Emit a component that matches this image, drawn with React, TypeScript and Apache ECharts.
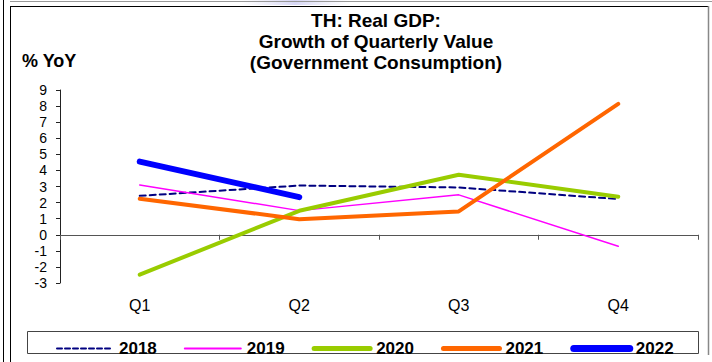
import React, { useEffect, useRef } from "react";
import * as echarts from "echarts";

const categories = ["Q1", "Q2", "Q3", "Q4"];
const s2018 = [2.42, 3.06, 2.94, 2.22];
const s2019 = [3.1, 1.5, 2.48, -0.72];
const s2020 = [-2.48, 1.49, 3.73, 2.36];
const s2021 = [2.24, 0.97, 1.45, 8.14];
const s2022: (number | null)[] = [4.55, 2.34, null, null];
const seriesNames = ["2018", "2019", "2020", "2021", "2022"];
const titleLines = ["TH: Real GDP:", "Growth of Quarterly Value", "(Government Consumption)"];
const yUnit = "% YoY";

const FONT = "'Liberation Sans', Arial, sans-serif";

export default function App() {
  const ref = useRef<HTMLDivElement>(null);
  useEffect(() => {
    if (!ref.current) return;
    const chart = echarts.init(ref.current, undefined, { renderer: "svg" });
    const styles = [
      { color: "#000080", width: 2, type: [6, 4], legendWidth: 2, legendType: [5, 3] },
      { color: "#ff00ff", width: 1.5, type: "solid", legendWidth: 2, legendType: "solid" },
      { color: "#99cc00", width: 4, type: "solid", legendWidth: 5, legendType: "solid" },
      { color: "#ff6600", width: 4, type: "solid", legendWidth: 5, legendType: "solid" },
      { color: "#0000ff", width: 6, type: "solid", legendWidth: 7, legendType: "solid" },
    ];
    const values = [s2018, s2019, s2020, s2021, s2022];
    chart.setOption({
      animation: false,
      backgroundColor: "#ffffff",
      textStyle: { fontFamily: FONT },
      grid: { left: 60, right: 14, top: 90, bottom: 79, containLabel: false },
      xAxis: [
        {
          type: "category",
          data: categories,
          boundaryGap: true,
          axisLine: { onZero: true, lineStyle: { color: "#555", width: 1 } },
          axisTick: { show: true, length: 5, inside: false, lineStyle: { color: "#555" } },
          axisLabel: { show: false },
          splitLine: { show: false },
        },
        {
          type: "category",
          data: categories,
          boundaryGap: true,
          position: "bottom",
          axisLine: { show: false, onZero: false },
          axisTick: { show: false },
          axisLabel: { show: true, margin: 14, fontSize: 16, color: "#000", fontFamily: FONT },
          splitLine: { show: false },
        },
      ],
      yAxis: {
        type: "value",
        min: -3,
        max: 9,
        interval: 1,
        axisLine: { show: true, lineStyle: { color: "#222", width: 1 } },
        axisTick: { show: true, length: 4, lineStyle: { color: "#222" } },
        axisLabel: { margin: 13, fontSize: 14, color: "#000", fontFamily: FONT },
        splitLine: { show: false },
      },
      legend: {
        left: 51,
        top: 335,
        itemWidth: 56,
        itemHeight: 14,
        itemGap: 27,
        itemStyle: { opacity: 0 },
        textStyle: { fontSize: 17, fontWeight: "bold", color: "#000", fontFamily: FONT, padding: [0, 0, 0, 1] },
        data: seriesNames.map((n, i) => ({
          name: n,
          lineStyle: { color: styles[i].color, width: styles[i].legendWidth, type: styles[i].legendType, cap: "round" },
        })),
      },
      series: seriesNames.map((n, i) => ({
        name: n,
        type: "line",
        data: values[i],
        symbol: "none",
        xAxisIndex: 0,
        lineStyle: { color: styles[i].color, width: styles[i].width, type: styles[i].type, cap: "round", join: "round" },
        itemStyle: { color: styles[i].color },
      })),
      graphic: [
        { type: "rect", shape: { x: 240, y: 0, width: 110, height: 5 }, style: { fill: new echarts.graphic.LinearGradient(0, 0, 1, 0, [{ offset: 0, color: "rgba(225,225,245,0)" }, { offset: 0.5, color: "rgba(215,215,245,1)" }, { offset: 1, color: "rgba(225,225,245,0)" }]) }, silent: true },
        { type: "line", shape: { x1: 10, y1: 1.5, x2: 712, y2: 1.5 }, style: { stroke: "#999", lineWidth: 1 } },
        { type: "line", shape: { x1: 3.5, y1: 0, x2: 3.5, y2: 362 }, style: { stroke: "#000", lineWidth: 1 } },
        { type: "line", shape: { x1: 10.5, y1: 6, x2: 10.5, y2: 362 }, style: { stroke: "#000", lineWidth: 1 } },
        { type: "line", shape: { x1: 10, y1: 6.5, x2: 709, y2: 6.5 }, style: { stroke: "#000", lineWidth: 1 } },
        { type: "line", shape: { x1: 708.5, y1: 6, x2: 708.5, y2: 355 }, style: { stroke: "#888", lineWidth: 1.5 } },
        { type: "rect", shape: { x: 27.5, y: 331.5, width: 671, height: 22 }, style: { fill: "none", stroke: "#444", lineWidth: 1 } },
        ...titleLines.map((t, i) => ({
          type: "text",
          x: 376,
          y: 20 + i * 21,
          style: { text: t, textAlign: "center", textVerticalAlign: "middle", fontSize: 19, fontWeight: "bold", fontFamily: FONT, fill: "#000" },
        })),
        {
          type: "text",
          x: 22,
          y: 61,
          style: { text: yUnit, textAlign: "left", textVerticalAlign: "middle", fontSize: 18, fontWeight: "bold", fontFamily: FONT, fill: "#000" },
        },
      ],
    });
    return () => chart.dispose();
  }, []);
  return <div ref={ref} style={{ position: "fixed", left: 0, top: 0, width: 712, height: 362 }} />;
}
